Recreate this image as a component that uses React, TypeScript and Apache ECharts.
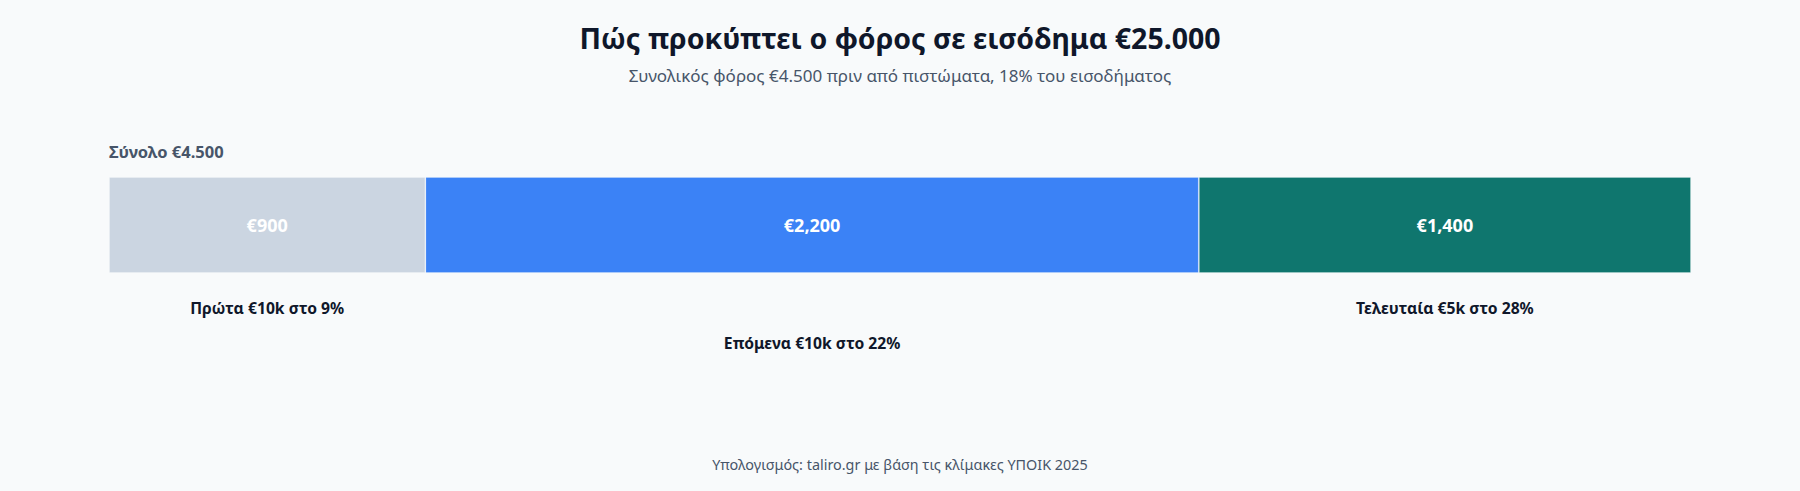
import React, { useEffect, useRef } from "react";
import * as echarts from "echarts";

const TITLE = "Πώς προκύπτει ο φόρος σε εισόδημα €25.000";
const SUBTITLE = "Συνολικός φόρος €4.500 πριν από πιστώματα, 18% του εισοδήματος";
const TOTAL_LABEL = "Σύνολο €4.500";
const FOOTER = "Υπολογισμός: taliro.gr με βάση τις κλίμακες ΥΠΟΙΚ 2025";

const categories = ["Φόρος"];
const segmentNames = ["Πρώτα €10k στο 9%", "Επόμενα €10k στο 22%", "Τελευταία €5k στο 28%"];
const segmentValues = [900, 2200, 1400];
const segmentColors = ["#cbd5e1", "#3b82f6", "#0f766e"];
const labelRows = [0, 1, 0];
const TOTAL = 4500;

const FONT = "'Noto Sans', 'Open Sans', sans-serif";

export default function App() {
  const ref = useRef<HTMLDivElement>(null);

  useEffect(() => {
    if (!ref.current) return;
    const chart = echarts.init(ref.current, undefined, { renderer: "svg" });

    const series = segmentValues.map((v, i) => ({
      name: segmentNames[i],
      type: "bar",
      stack: "tax",
      barWidth: 96,
      data: [v],
      itemStyle: {
        color: segmentColors[i],
        borderColor: "rgba(255,255,255,0.2)",
        borderWidth: 1,
      },
      label: {
        show: true,
        position: "inside",
        color: "#ffffff",
        fontFamily: FONT,
        fontWeight: "bold",
        fontSize: 18,
        formatter: () => "€" + v.toLocaleString("en-US"),
      },
    }));

    chart.setOption({
      animation: false,
      backgroundColor: "#f8fafb",
      textStyle: { fontFamily: FONT },
      title: {
        text: TITLE,
        subtext: SUBTITLE,
        left: "center",
        top: 15,
        itemGap: 7,
        textStyle: { fontFamily: FONT, fontSize: 28.5, fontWeight: "bold", color: "#0f172a", lineHeight: 36 },
        subtextStyle: { fontFamily: FONT, fontSize: 17, color: "#475569", lineHeight: 24 },
      },
      grid: { left: 109, right: 109, top: 177, height: 96 },
      xAxis: { type: "value", min: 0, max: TOTAL, show: false },
      yAxis: { type: "category", data: categories, show: false },
      series,
    });

    const y0 = 273;
    const graphics: any[] = [
      {
        type: "text",
        left: 109,
        top: 143,
        style: { text: TOTAL_LABEL, fontFamily: FONT, fontSize: 16.5, fontWeight: "bold", fill: "#475569" },
      },
      {
        type: "text",
        left: "center",
        top: 457,
        style: { text: FOOTER, fontFamily: FONT, fontSize: 14.4, fill: "#475569" },
      },
    ];
    let cum = 0;
    segmentValues.forEach((v, i) => {
      const mid = cum + v / 2;
      cum += v;
      const px = chart.convertToPixel({ xAxisIndex: 0 }, mid) as number;
      graphics.push({
        type: "text",
        x: px,
        y: y0 + 35 + labelRows[i] * 35,
        style: {
          text: segmentNames[i],
          fontFamily: FONT,
          fontSize: 15.7,
          fontWeight: "bold",
          fill: "#0f172a",
          align: "center",
          verticalAlign: "middle",
        },
      });
    });
    chart.setOption({ graphic: graphics });

    return () => chart.dispose();
  }, []);

  return (
    <div
      ref={ref}
      style={{ position: "fixed", left: 0, top: 0, width: 1800, height: 491 }}
    />
  );
}
